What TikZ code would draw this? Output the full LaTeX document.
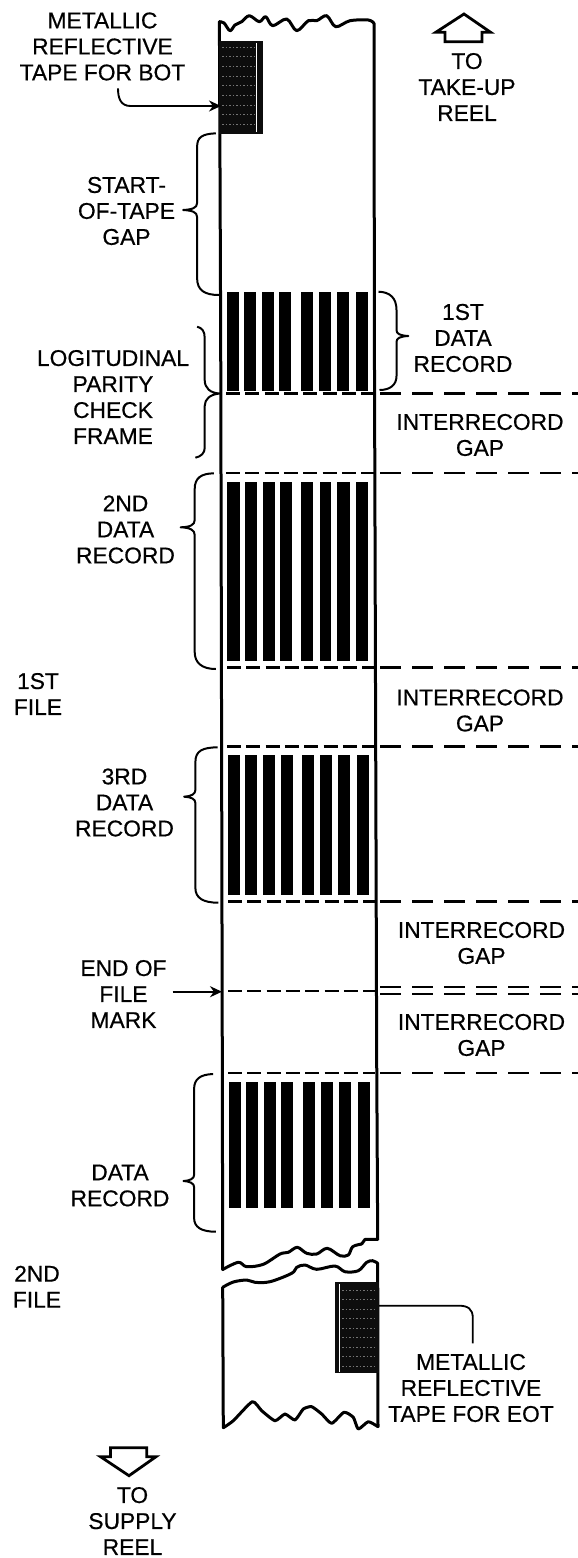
\documentclass[tikz,border=0pt]{standalone}
\usepackage{fontspec}
\setmainfont[FakeBold=0.5]{Liberation Sans}
\usetikzlibrary{arrows.meta}
\tikzset{
  lbl/.style={font=\fontsize{22.8}{26}\selectfont,align=center,inner sep=0pt},
  tapeline/.style={line width=3pt,line join=round,line cap=round},
  wiggle/.style={line width=3pt,line join=round,line cap=round,smooth,tension=0.55},
  bracket/.style={line width=2pt,line join=round},
  dashin/.style={line width=2.8pt,dash pattern=on 14pt off 5.3pt},
  dashout/.style={line width=2.8pt,dash pattern=on 21pt off 11pt},
  leader/.style={line width=1.8pt},
  arrowed/.style={line width=1.9pt,-{Stealth[length=12pt,width=11pt]}},
  hollow/.style={line width=2.8pt,line join=miter,fill=white},
  bar/.style={fill=black,draw=none},
  metal/.style={fill=black!95,draw=none},
  glint/.style={draw=white,line width=0.7pt},
  speck/.style={draw=black!55,line width=0.7pt,dash pattern=on 1.5pt off 2pt}
}
\newcommand{\databars}[3]{%
  \foreach \xa/\xb in {226.7/239,244/256,262/274,279.3/291.3,300.7/312.5,319/330.7,336.7/349,355.7/367.7}
    \fill[bar] ({\xa+#1},#2) rectangle ({\xb+#1},#3);%
}
\newcommand{\gapline}[2]{%
  \draw[dashin] (#1,#2) -- (375,#2);
  \draw[dashout] (380,#2) -- (578,#2);%
}
\begin{document}
\begin{tikzpicture}[x=1pt,y=-1pt]
\useasboundingbox (0,0) rectangle (578,1558);
% tape: upper part
\draw[tapeline] (222.7,1269.5) -- (222.3,1060) -- (220.7,340) -- (219.4,21.7);
\draw[wiggle] plot coordinates {(219.4,21.7) (224,23) (230,30.7) (235,25) (241.7,21.7) (249.3,15.7) (259.3,21.7) (265.7,16.7) (272.7,25.7) (286.7,19) (296.7,30.7) (308.3,20.7) (316.7,20.7) (326.7,15.7) (335.7,26.7) (350,20.7) (368.3,20) (374,23.3)};
\draw[tapeline] (374,23.3) -- (374.4,340) -- (376.7,1060) -- (377.7,1239.5);
\draw[wiggle] plot coordinates {(222.7,1269.5) (238.3,1262.3) (246.7,1266.7) (263.3,1264.3) (280,1254) (288.3,1252.3) (297.3,1247.3) (306.7,1253.3) (316.7,1254) (327.3,1248.3) (340,1255.7) (348.3,1255) (352.7,1246.7) (361.7,1244)};
\draw[tapeline] (361.7,1244) -- (365,1239.4) -- (377.7,1239.4);
% tape: lower part
\draw[tapeline] (222.7,1287.3) -- (223.3,1427.7);
\draw[wiggle] plot coordinates {(222.7,1287.3) (233.3,1282) (246.7,1280) (255,1282.3) (270,1281.7) (291.7,1273.3) (296.7,1267.3) (305,1265) (316.7,1269.3) (335,1266) (345,1271.7) (358.3,1270.7) (366.7,1262.3) (372.7,1260.7) (377.7,1263.3)};
\draw[tapeline] (377.7,1263.3) -- (378,1426.7);
\draw[wiggle,tension=0.35] plot coordinates {(223.3,1427.7) (233.3,1420.7) (252.3,1401.7) (261.7,1410.7) (275,1420.7) (285,1414) (295,1420) (303.3,1409) (311.7,1406.7) (321.7,1414) (331.7,1423.3) (344,1412.3) (353.3,1417.3) (358.3,1429) (368.3,1421.7) (378,1426.7)};
% reflective tapes
\fill[metal] (219,41) rectangle (262.7,134.3);
\draw[glint] (256.7,43) -- (256.7,132);
\foreach \yy in {47,56.7,66,76,85.3,95.3,105,114.3,124.3}
  \draw[speck] (222,\yy) -- (255,\yy);
\fill[metal] (335,1281.7) rectangle (378.5,1373.3);
\draw[glint] (339.6,1284) -- (339.6,1371.5);
\foreach \yy in {1290,1299.5,1309,1318.5,1328,1337.5,1347,1356.5,1366}
  \draw[speck] (342,\yy) -- (377,\yy);
% data records
\databars{0}{291.7}{390.7}
\databars{0.5}{481.7}{661}
\databars{1.3}{755}{894.7}
\databars{2}{1081.7}{1208.3}
% gap lines
\gapline{226}{393.7}
\gapline{226}{473}
\gapline{227}{667.5}
\gapline{227}{746.7}
\gapline{228}{901.5}
\gapline{228}{1073}
\draw[dashin,line width=2.3pt] (228,990.8) -- (376,990.8);
\draw[dashout,line width=2pt] (380,987.4) -- (578,987.4);
\draw[dashout,line width=2pt] (380,993.6) -- (578,993.6);
% braces
\begin{scope}[xshift=-0.9pt]
\draw[bracket] (216.7,133.3) .. controls (203,134) and (198,137) .. (198,147) -- (198,203) .. controls (198,208) and (193,209.5) .. (184,210) .. controls (193,210.5) and (198,212) .. (198,217) -- (198,278) .. controls (198,290) and (205,295) .. (220,295);
\draw[bracket] (198,326.7) .. controls (203,328) and (205.6,331) .. (205.6,338) -- (205.6,380) .. controls (205.6,388) and (211,393) .. (220.4,393.5) .. controls (211,394.5) and (205.6,399) .. (205.6,406) -- (205.6,448) .. controls (205.6,453) and (202,456.5) .. (196.3,457.7);
\draw[bracket] (214.8,473.3) .. controls (202,473.5) and (195.6,478) .. (195.6,489) -- (195.6,520) .. controls (195.6,525) and (191,527) .. (181.5,527.3) .. controls (191,527.6) and (195.6,530) .. (195.6,535) -- (195.6,652) .. controls (195.6,663) and (203,669) .. (216.7,669);
\draw[bracket] (218.5,747.3) .. controls (203,747.5) and (196.3,751) .. (196.3,762) -- (196.3,790) .. controls (196.3,794) and (192,796.4) .. (185,796.7) .. controls (192,797) and (196.3,799) .. (196.3,803) -- (196.3,888) .. controls (196.3,898) and (204,902.7) .. (219.3,902.7);
\draw[bracket] (214,1074) .. controls (201,1074.5) and (195,1079) .. (195,1089) -- (195,1175) .. controls (195,1178.5) and (191,1180.7) .. (184.4,1181) .. controls (191,1181.3) and (195,1183.5) .. (195,1187) -- (195,1218) .. controls (195,1227) and (202,1231.7) .. (216.7,1231.7);
\end{scope}
\draw[bracket] (378.5,291.7) .. controls (390,292) and (396.5,298) .. (396.5,310) -- (396.5,330) .. controls (396.5,334) and (400,335.5) .. (408.4,336) .. controls (400,336.5) and (396.5,338) .. (396.5,342) -- (396.5,376) .. controls (396.5,385) and (390,390) .. (379.5,390);
% labels
\node[lbl] (bot) at (102.5,46.5) {METALLIC\\REFLECTIVE\\TAPE FOR BOT};
\node[lbl] (takeup) at (467,87) {TO\\TAKE-UP\\REEL};
\node[lbl] (start) at (126.5,211) {START-\\OF-TAPE\\GAP};
\node[lbl] (first) at (463,338) {1ST\\DATA\\RECORD};
\node[lbl] (parity) at (113,397) {LOGITUDINAL\\PARITY\\CHECK\\FRAME};
\node[lbl] (gapa) at (480,435) {INTERRECORD\\GAP};
\node[lbl] (second) at (125.5,529.5) {2ND\\DATA\\RECORD};
\node[lbl] (fileone) at (38,694) {1ST\\FILE};
\node[lbl] (gapb) at (480,710.5) {INTERRECORD\\GAP};
\node[lbl] (third) at (124.5,802.5) {3RD\\DATA\\RECORD};
\node[lbl] (gapc) at (481.5,943) {INTERRECORD\\GAP};
\node[lbl] (eof) at (123.5,994) {END OF\\FILE\\MARK};
\node[lbl] (gapd) at (481.5,1035) {INTERRECORD\\GAP};
\node[lbl] (last) at (120,1185.5) {DATA\\RECORD};
\node[lbl] (filetwo) at (37,1286.7) {2ND\\FILE};
\node[lbl] (eot) at (471,1388) {METALLIC\\REFLECTIVE\\TAPE FOR EOT};
\node[lbl] (supply) at (132.5,1521) {TO\\SUPPLY\\REEL};
% connectors
\coordinate (botstart) at (118,88.3);
\coordinate (bottape) at (221,106);
\coordinate (eofstart) at (172.6,991.7);
\coordinate (eoftape) at (222,991.7);
\coordinate (eottape) at (379,1305.7);
\coordinate (eotend) at (472.8,1343.3);
\draw[arrowed] (botstart) .. controls (118,98) and (120.5,106) .. (130.5,106) -- (bottape);
\draw[arrowed] (eofstart) -- (eoftape);
\draw[leader] (eottape) -- (459,1305.7) .. controls (468,1305.7) and (472.8,1309) .. (472.8,1318) -- (eotend);
% reel arrows
\draw[hollow] (464,14) -- (490.6,32.3) -- (482,32.3) -- (482,41.7) -- (445,41.7) -- (445,32.3) -- (435.8,32.3) -- cycle;
\draw[hollow] (110.5,1447.7) -- (146.8,1447.7) -- (146.8,1456.7) -- (156,1456.7) -- (129,1475.7) -- (100.5,1456.7) -- (110.5,1456.7) -- cycle;
\end{tikzpicture}
\end{document}
